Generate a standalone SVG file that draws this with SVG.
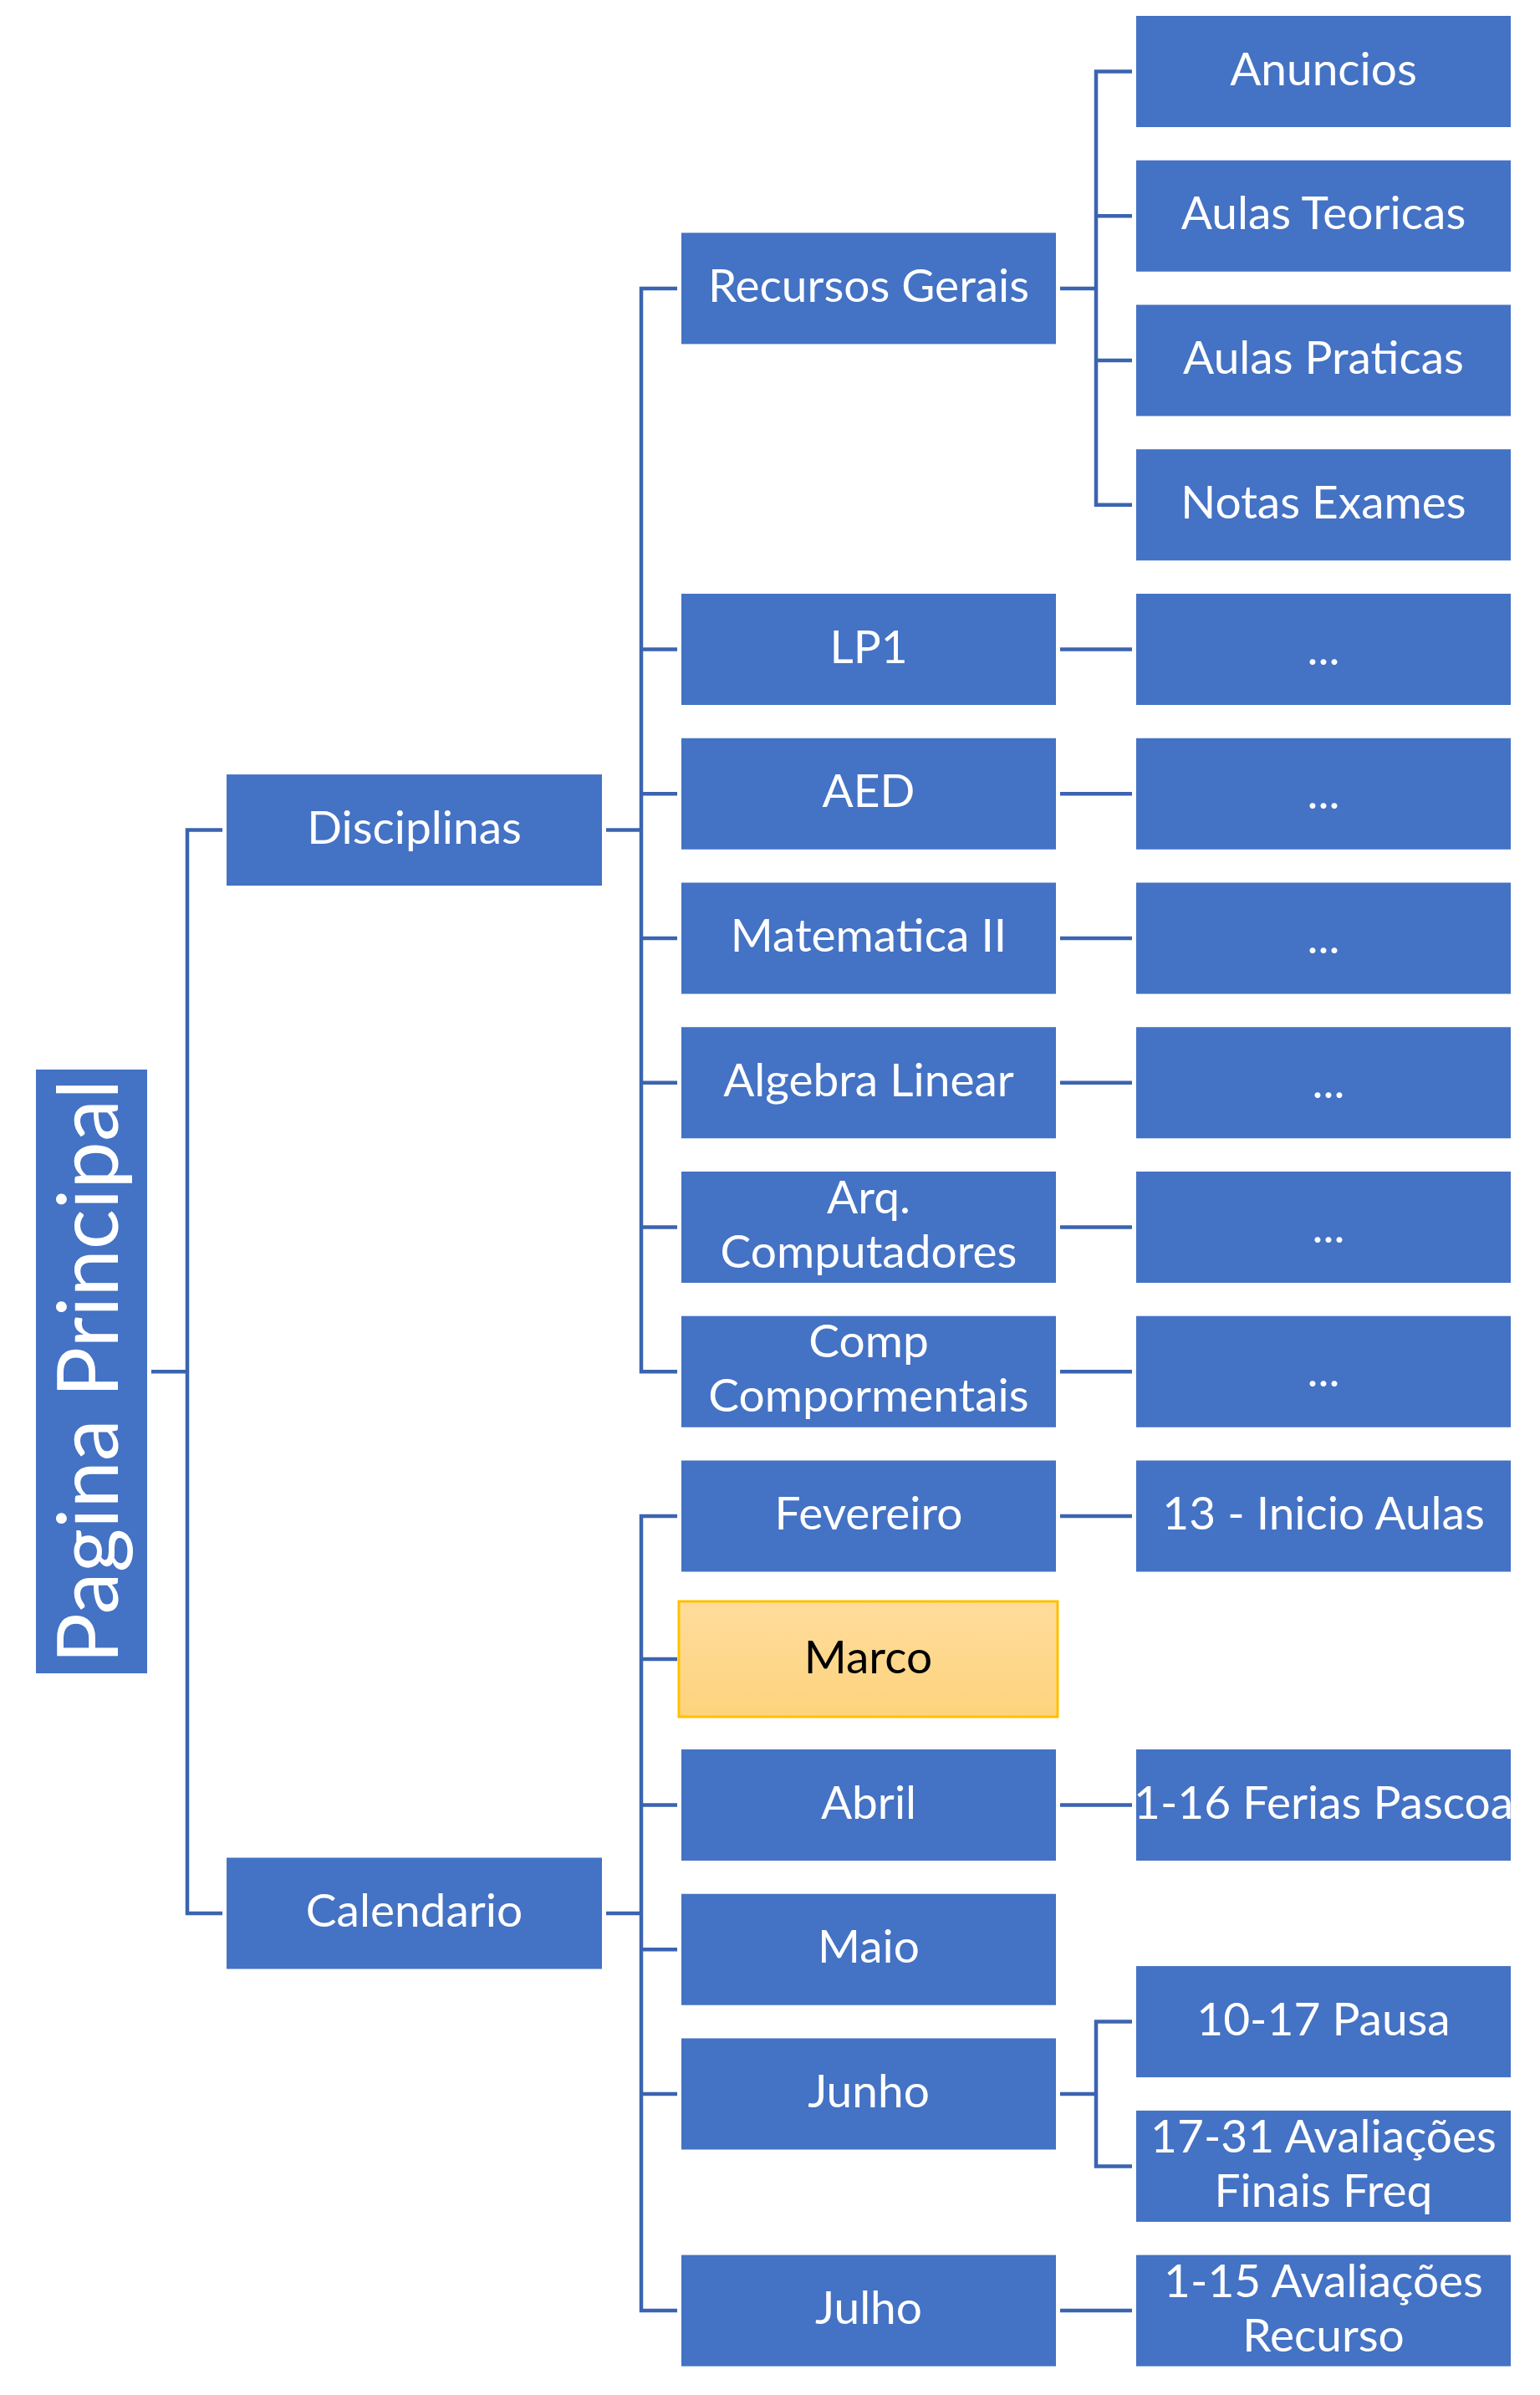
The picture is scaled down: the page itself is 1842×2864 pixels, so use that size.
<svg xmlns="http://www.w3.org/2000/svg" width="1842" height="2864" viewBox="0 0 1842 2864">
<style>
.box{fill:#4472C4}
.t{font-family:Lato,"Open Sans","Liberation Sans",sans-serif;font-size:55px;fill:#FFFFFF;text-anchor:middle}
.dk{fill:#000000}
.ln{stroke:#3B64B0;stroke-width:4.5;fill:none;stroke-linejoin:miter}
</style>
<defs>
<linearGradient id="gold" x1="0" y1="0" x2="0" y2="1">
<stop offset="0" stop-color="#FFDC9C"/>
<stop offset="1" stop-color="#FDD37C"/>
</linearGradient>
</defs>
<rect x="0" y="0" width="1842" height="2864" fill="#FFFFFF"/>
<g id="connectors">
<path class="ln" d="M181,1640.3 H224"/>
<path class="ln" d="M266,992.6 H224 V2288 H266"/>
<path class="ln" d="M725,992.6 H767"/>
<path class="ln" d="M810,344.9 H767 V1640.25 H810"/>
<path class="ln" d="M767,776.5 H810 M767,949.25 H810 M767,1122 H810 M767,1294.75 H810 M767,1467.5 H810"/>
<path class="ln" d="M725,2288 H767"/>
<path class="ln" d="M810,1813 H767 V2763.1 H810"/>
<path class="ln" d="M767,1984 H810 M767,2158.5 H810 M767,2331.25 H810 M767,2504 H810"/>
<path class="ln" d="M1268,344.9 H1311"/>
<path class="ln" d="M1354,85.5 H1311 V603.75 H1354"/>
<path class="ln" d="M1311,258.25 H1354 M1311,431 H1354"/>
<path class="ln" d="M1268,776.5 H1354 M1268,949.25 H1354 M1268,1122 H1354 M1268,1294.75 H1354 M1268,1467.5 H1354 M1268,1640.25 H1354"/>
<path class="ln" d="M1268,1813 H1354 M1268,2158.5 H1354 M1268,2763.1 H1354"/>
<path class="ln" d="M1268,2504 H1311"/>
<path class="ln" d="M1354,2417.6 H1311 V2590.4 H1354"/>
</g>
<g id="pagina-principal">
<rect class="box" x="43" y="1279" width="133" height="722"/>
<text class="t" style="font-size:101px" transform="translate(141,1640.3) rotate(-90)" x="0" y="0">Pagina Principal</text>
</g>
<g id="disciplinas">
<rect class="box" x="271" y="926.1" width="449" height="133"/>
<text class="t" x="495.5" y="1008.6">Disciplinas</text>
</g>
<g id="calendario">
<rect class="box" x="271" y="2221.5" width="449" height="133"/>
<text class="t" x="495.5" y="2304">Calendario</text>
</g>
<g id="recursos-gerais">
<rect class="box" x="815" y="278.4" width="448" height="133"/>
<text class="t" x="1039" y="360.9">Recursos Gerais</text>
</g>
<g id="lp1">
<rect class="box" x="815" y="710" width="448" height="133"/>
<text class="t" x="1039" y="792.5">LP1</text>
</g>
<g id="aed">
<rect class="box" x="815" y="882.75" width="448" height="133"/>
<text class="t" x="1039" y="965.25">AED</text>
</g>
<g id="matematica-ii">
<rect class="box" x="815" y="1055.5" width="448" height="133"/>
<text class="t" x="1039" y="1138">Matematica II</text>
</g>
<g id="algebra-linear">
<rect class="box" x="815" y="1228.25" width="448" height="133"/>
<text class="t" x="1039" y="1310.75">Algebra Linear</text>
</g>
<g id="arq-computadores">
<rect class="box" x="815" y="1401" width="448" height="133"/>
<text class="t" x="1039" y="1451">Arq.</text>
<text class="t" x="1039" y="1516">Computadores</text>
</g>
<g id="comp-compormentais">
<rect class="box" x="815" y="1573.75" width="448" height="133"/>
<text class="t" x="1039" y="1623">Comp</text>
<text class="t" x="1039" y="1688">Compormentais</text>
</g>
<g id="fevereiro">
<rect class="box" x="815" y="1746.5" width="448" height="133"/>
<text class="t" x="1039" y="1829">Fevereiro</text>
</g>
<g id="marco">
<rect x="812" y="1915" width="453" height="138" fill="url(#gold)" stroke="#FFC000" stroke-width="3"/>
<text class="t dk" x="1038.5" y="2001">Marco</text>
</g>
<g id="abril">
<rect class="box" x="815" y="2092" width="448" height="133"/>
<text class="t" x="1039" y="2174.5">Abril</text>
</g>
<g id="maio">
<rect class="box" x="815" y="2264.75" width="448" height="133"/>
<text class="t" x="1039" y="2347.25">Maio</text>
</g>
<g id="junho">
<rect class="box" x="815" y="2437.5" width="448" height="133"/>
<text class="t" x="1039" y="2520">Junho</text>
</g>
<g id="julho">
<rect class="box" x="815" y="2696.6" width="448" height="133"/>
<text class="t" x="1039" y="2779.1">Julho</text>
</g>
<g id="anuncios">
<rect class="box" x="1359" y="19" width="448" height="133"/>
<text class="t" x="1583" y="101.5">Anuncios</text>
</g>
<g id="aulas-teoricas">
<rect class="box" x="1359" y="191.75" width="448" height="133"/>
<text class="t" x="1583" y="274.25">Aulas Teoricas</text>
</g>
<g id="aulas-praticas">
<rect class="box" x="1359" y="364.5" width="448" height="133"/>
<text class="t" x="1583" y="447">Aulas Praticas</text>
</g>
<g id="notas-exames">
<rect class="box" x="1359" y="537.25" width="448" height="133"/>
<text class="t" x="1583" y="619.75">Notas Exames</text>
</g>
<g id="lp1-child">
<rect class="box" x="1359" y="710" width="448" height="133"/>
<text class="t" x="1583" y="794.5">...</text>
</g>
<g id="aed-child">
<rect class="box" x="1359" y="882.75" width="448" height="133"/>
<text class="t" x="1583" y="967.25">...</text>
</g>
<g id="matematica-child">
<rect class="box" x="1359" y="1055.5" width="448" height="133"/>
<text class="t" x="1583" y="1140">...</text>
</g>
<g id="algebra-child">
<rect class="box" x="1359" y="1228.25" width="448" height="133"/>
<text class="t" x="1589" y="1312.75">...</text>
</g>
<g id="arq-child">
<rect class="box" x="1359" y="1401" width="448" height="133"/>
<text class="t" x="1589" y="1485.5">...</text>
</g>
<g id="comp-child">
<rect class="box" x="1359" y="1573.75" width="448" height="133"/>
<text class="t" x="1583" y="1658.25">...</text>
</g>
<g id="inicio-aulas">
<rect class="box" x="1359" y="1746.5" width="448" height="133"/>
<text class="t" x="1583" y="1829">13 - Inicio Aulas</text>
</g>
<g id="ferias-pascoa">
<rect class="box" x="1359" y="2092" width="448" height="133"/>
<text class="t" x="1583" y="2174.5">1-16 Ferias Pascoa</text>
</g>
<g id="pausa">
<rect class="box" x="1359" y="2351.1" width="448" height="133"/>
<text class="t" x="1583" y="2433.6">10-17 Pausa</text>
</g>
<g id="avaliacoes-finais">
<rect class="box" x="1359" y="2523.9" width="448" height="133"/>
<text class="t" x="1583" y="2574">17-31 Avaliações</text>
<text class="t" x="1583" y="2639">Finais Freq</text>
</g>
<g id="avaliacoes-recurso">
<rect class="box" x="1359" y="2696.6" width="448" height="133"/>
<text class="t" x="1583" y="2746.6">1-15 Avaliações</text>
<text class="t" x="1583" y="2811.6">Recurso</text>
</g>
</svg>
